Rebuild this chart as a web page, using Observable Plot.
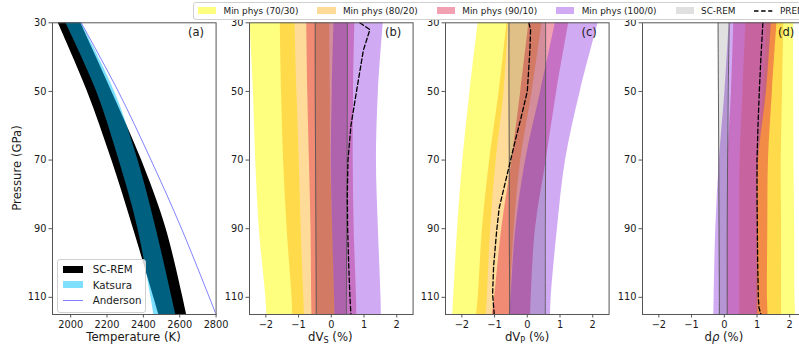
<!DOCTYPE html>
<html><head><meta charset="utf-8">
<script src="https://cdn.jsdelivr.net/npm/d3@7"></script>
<script src="https://cdn.jsdelivr.net/npm/@observablehq/plot@0.6"></script>
<style>
body{margin:0;background:#fff;font-family:"DejaVu Sans",sans-serif;color:#1a1a1a;}
#wrap{position:relative;width:799px;height:350px;overflow:hidden;background:#fff;}
.xl{position:absolute;font-size:11.7px;text-align:center;width:164px;top:329px;line-height:16px;white-space:nowrap;}
.xl sub{font-size:70%;vertical-align:-0.22em;line-height:0;}
#yl{position:absolute;left:16.7px;top:168.3px;font-size:11.7px;transform:translate(-50%,-50%) rotate(-90deg);white-space:nowrap;}
#leg{position:absolute;left:193px;top:1.5px;height:16px;border:1px solid #d0d0d0;border-radius:3px;padding-left:4px;display:flex;align-items:center;font-size:8.87px;white-space:nowrap;background:#fff;}
#leg .sw{display:inline-block;width:18.3px;height:6.3px;margin-right:7.2px;}
#leg .lt{margin-right:19px;}
#lega{position:absolute;left:56.7px;top:259px;width:87px;height:52px;border:1px solid #d0d0d0;border-radius:3px;background:rgba(255,255,255,0.8);font-size:10.3px;}
#lega .row{position:absolute;left:5px;height:12px;display:flex;align-items:center;}
#lega .sw{display:inline-block;width:20px;height:7px;margin-right:10px;}
</style></head><body><div id="wrap"></div>
<script>
// ---------- Data ----------
const yTicks = [30, 50, 70, 90, 110];
const bTicks = [-2, -1, 0, 1, 2];
const aTicks = [2000, 2200, 2400, 2600, 2800];

// Panel (a): temperature (K) vs pressure (GPa)
const P_a = [30, 50, 70, 90, 115];
const screm_T_lo = [1931, 2092, 2226, 2345, 2485];
const screm_T_hi = [2055, 2226, 2390, 2525, 2638];
const katsura_T_lo = [1973, 2143, 2266, 2370, 2458];
const katsura_T_hi = [2058, 2242, 2370, 2470, 2578];
const anderson_P = [30, 50, 70, 90, 115];
const anderson_T = [2058, 2262, 2442, 2610, 2800];

// Band pressures for panels b-d
const P_band = [30, 50, 70, 90, 110, 115];

// Panel (b): dVs (%)
const vs_70_30_lo = [-2.48, -2.38, -2.31, -2.2, -2.0, -1.97];
const vs_70_30_hi = [-1.11, -1.05, -0.98, -0.92, -0.84, -0.82];
const vs_80_20_lo = [-1.56, -1.52, -1.46, -1.35, -1.2, -1.18];
const vs_80_20_hi = [-0.05, -0.03, -0.02, 0.04, 0.1, 0.11];
const vs_90_10_lo = [-0.75, -0.72, -0.67, -0.62, -0.6, -0.59];
const vs_90_10_hi = [0.72, 0.68, 0.67, 0.7, 0.77, 0.78];
const vs_100_0_lo = [0.08, 0.03, 0.0, 0.04, 0.1, 0.11];
const vs_100_0_hi = [1.59, 1.44, 1.38, 1.44, 1.52, 1.53];
const vs_screm_lo = [-0.49, -0.49, -0.48, -0.47, -0.46, -0.46];
const vs_screm_hi = [0.49, 0.49, 0.48, 0.47, 0.46, 0.46];
const vs_prem_P = [30, 32, 38, 50, 60, 70, 80, 90, 100, 110, 115];
const vs_prem = [0.87, 1.18, 0.98, 0.77, 0.6, 0.51, 0.49, 0.5, 0.53, 0.57, 0.6];

// Panel (c): dVp (%)
const vp_70_30_lo = [-1.5, -1.75, -1.97, -2.13, -2.25, -2.28];
const vp_70_30_hi = [-0.58, -0.71, -0.95, -1.12, -1.22, -1.25];
const vp_80_20_lo = [-0.62, -0.86, -1.15, -1.37, -1.5, -1.55];
const vp_80_20_hi = [0.45, 0.15, -0.2, -0.4, -0.52, -0.54];
const vp_90_10_lo = [0.05, -0.2, -0.47, -0.78, -1.0, -1.07];
const vp_90_10_hi = [1.27, 0.9, 0.58, 0.25, 0.12, 0.1];
const vp_100_0_lo = [0.86, 0.41, -0.05, -0.35, -0.5, -0.54];
const vp_100_0_hi = [2.17, 1.62, 1.17, 0.92, 0.73, 0.71];
const vp_screm_lo = [-0.56, -0.56, -0.55, -0.55, -0.54, -0.54];
const vp_screm_hi = [0.56, 0.56, 0.56, 0.55, 0.55, 0.55];
const vp_prem_P = [30, 32, 38, 50, 58, 64, 70, 78, 84, 91, 101, 109, 115];
const vp_prem = [0.05, 0.1, 0.08, 0.0, -0.2, -0.36, -0.51, -0.71, -0.86, -0.94, -1.03, -1.06, -1.01];

// Panel (d): drho (%)
const rho_70_30_lo = [1.3, 1.2, 1.0, 0.98, 0.98, 0.98];
const rho_70_30_hi = [2.12, 2.12, 2.13, 2.15, 2.16, 2.18];
const rho_80_20_lo = [0.66, 0.57, 0.48, 0.47, 0.47, 0.47];
const rho_80_20_hi = [1.82, 1.78, 1.74, 1.75, 1.75, 1.75];
const rho_90_10_lo = [0.29, 0.22, 0.11, 0.09, 0.09, 0.09];
const rho_90_10_hi = [1.61, 1.47, 1.35, 1.33, 1.32, 1.34];
const rho_100_0_lo = [0.15, 0.02, -0.15, -0.26, -0.31, -0.32];
const rho_100_0_hi = [1.44, 1.29, 1.05, 1.03, 1.03, 1.03];
const rho_screm_lo = [-0.19, -0.18, -0.17, -0.16, -0.15, -0.15];
const rho_screm_hi = [0.15, 0.12, 0.1, 0.09, 0.09, 0.09];
const rho_prem_P = [30, 40, 50, 60, 70, 80, 90, 100, 110, 113, 115];
const rho_prem = [1.18, 1.12, 1.07, 1.03, 1.0, 1.0, 1.01, 1.02, 1.04, 1.06, 1.12];

// ---------- Styles ----------
const C = {
  y: {fill: "yellow", op: 0.5},
  o: {fill: "orange", op: 0.4},
  r: {fill: "crimson", op: 0.4},
  p: {fill: "blueviolet", op: 0.4},
  g: {fill: "black", op: 0.12}
};

const rowsOf = (P, lo, hi) => P.map((p, i) => ({p, lo: lo[i], hi: hi[i]}));
const band = (P, lo, hi, c) => Plot.areaX(rowsOf(P, lo, hi), {y: "p", x1: "lo", x2: "hi", fill: c.fill, fillOpacity: c.op, curve: "catmull-rom", clip: true});
const edges = (P, lo, hi) => [
  Plot.line(rowsOf(P, lo, hi), {x: "lo", y: "p", stroke: "#555", strokeWidth: 0.9, curve: "catmull-rom", clip: true}),
  Plot.line(rowsOf(P, lo, hi), {x: "hi", y: "p", stroke: "#555", strokeWidth: 0.9, curve: "catmull-rom", clip: true})
];
const prem = (P, v) => Plot.line(P.map((p, i) => ({p, v: v[i]})), {x: "v", y: "p", stroke: "black", strokeWidth: 1.3, strokeDasharray: "4.5,2.6", clip: true});

const wrap = document.getElementById("wrap");
const W = 163.6, ML = 46, MR = 6, MT = 22.3, MB = 36, H = 350;
const lefts = [51.7, 248.5, 445.3, 642.1];

function panel(i, xDomain, xTicks, xFmt, marks, tag) {
  const svg = Plot.plot({
    width: ML + W + MR, height: H,
    marginLeft: ML, marginRight: MR, marginTop: MT, marginBottom: MB,
    style: {fontFamily: "DejaVu Sans", fontSize: "9.8px", color: "#1a1a1a", background: "transparent", overflow: "visible"},
    x: {domain: xDomain, label: null},
    y: {domain: [30, 115], reverse: true, label: null},
    marks: [
      ...marks,
      Plot.frame({stroke: "#555", strokeWidth: 1}),
      Plot.axisX({ticks: xTicks, tickFormat: xFmt, tickSize: 3.5, tickPadding: 3, label: null, fontSize: 9.8, stroke: "#555", fill: "#1a1a1a"}),
      Plot.axisY({ticks: yTicks, tickSize: 3.5, tickPadding: 2.5, label: null, fontSize: 9.8, stroke: "#555", fill: "#1a1a1a"}),
      Plot.text([tag], {text: d => d, frameAnchor: "top-right", dx: -20, dy: 10, textAnchor: "middle", lineAnchor: "middle", fontSize: 11.5, fill: "#1a1a1a"})
    ]
  });
  svg.style.position = "absolute";
  svg.style.left = (lefts[i] - ML) + "px";
  svg.style.top = "0px";
  wrap.appendChild(svg);
}

// Panel (a)
panel(0, [1900, 2800], aTicks, d3.format("d"), [
  Plot.areaX(rowsOf(P_a, screm_T_lo, screm_T_hi), {y: "p", x1: "lo", x2: "hi", fill: "black", curve: "catmull-rom", clip: true}),
  Plot.areaX(rowsOf(P_a, katsura_T_lo, katsura_T_hi), {y: "p", x1: "lo", x2: "hi", fill: "deepskyblue", fillOpacity: 0.5, curve: "catmull-rom", clip: true}),
  Plot.line(anderson_P.map((p, i) => ({p, t: anderson_T[i]})), {x: "t", y: "p", stroke: "blue", strokeOpacity: 0.5, strokeWidth: 1, curve: "catmull-rom", clip: true})
], "(a)");

// Panel (b)
panel(1, [-2.5, 2.5], bTicks, d3.format("d"), [
  band(P_band, vs_70_30_lo, vs_70_30_hi, C.y),
  band(P_band, vs_80_20_lo, vs_80_20_hi, C.o),
  band(P_band, vs_90_10_lo, vs_90_10_hi, C.r),
  band(P_band, vs_100_0_lo, vs_100_0_hi, C.p),
  band(P_band, vs_screm_lo, vs_screm_hi, C.g),
  ...edges(P_band, vs_screm_lo, vs_screm_hi),
  prem(vs_prem_P, vs_prem)
], "(b)");

// Panel (c)
panel(2, [-2.5, 2.5], bTicks, d3.format("d"), [
  band(P_band, vp_70_30_lo, vp_70_30_hi, C.y),
  band(P_band, vp_80_20_lo, vp_80_20_hi, C.o),
  band(P_band, vp_90_10_lo, vp_90_10_hi, C.r),
  band(P_band, vp_100_0_lo, vp_100_0_hi, C.p),
  band(P_band, vp_screm_lo, vp_screm_hi, C.g),
  ...edges(P_band, vp_screm_lo, vp_screm_hi),
  prem(vp_prem_P, vp_prem)
], "(c)");

// Panel (d)
panel(3, [-2.5, 2.5], bTicks, d3.format("d"), [
  band(P_band, rho_70_30_lo, rho_70_30_hi, C.y),
  band(P_band, rho_80_20_lo, rho_80_20_hi, C.o),
  band(P_band, rho_90_10_lo, rho_90_10_hi, C.r),
  band(P_band, rho_100_0_lo, rho_100_0_hi, C.p),
  band(P_band, rho_screm_lo, rho_screm_hi, C.g),
  ...edges(P_band, rho_screm_lo, rho_screm_hi),
  prem(rho_prem_P, rho_prem)
], "(d)");

// Axis labels
const xlabels = ["Temperature (K)", "dV<sub>S</sub> (%)", "dV<sub>P</sub> (%)", "d<i>ρ</i> (%)"];
xlabels.forEach((t, i) => {
  const d = document.createElement("div");
  d.className = "xl";
  d.style.left = (lefts[i] + W / 2 - 82) + "px";
  d.innerHTML = t;
  wrap.appendChild(d);
});
const yl = document.createElement("div");
yl.id = "yl"; yl.textContent = "Pressure (GPa)";
wrap.appendChild(yl);

// Top legend
const rgba = (c) => { const k = d3.color(c.fill); k.opacity = c.op; return k.formatRgb(); };
const legItems = [
  ["Min phys (70/30)", C.y], ["Min phys (80/20)", C.o], ["Min phys (90/10)", C.r],
  ["Min phys (100/0)", C.p], ["SC-REM", C.g]
];
const leg = document.createElement("div");
leg.id = "leg";
legItems.forEach(([t, c]) => {
  const s = document.createElement("span"); s.className = "sw"; s.style.background = rgba(c); leg.appendChild(s);
  const l = document.createElement("span"); l.className = "lt"; l.textContent = t; leg.appendChild(l);
});
const dsh = document.createElementNS("http://www.w3.org/2000/svg", "svg");
dsh.setAttribute("width", "18.3"); dsh.setAttribute("height", "8");
dsh.style.marginRight = "7.2px";
dsh.innerHTML = '<line x1="0" y1="4" x2="18.3" y2="4" stroke="black" stroke-width="1.3" stroke-dasharray="4.5,2.6"/>';
leg.appendChild(dsh);
const pl = document.createElement("span"); pl.className = "lt"; pl.textContent = "PREM"; leg.appendChild(pl);
wrap.appendChild(leg);

// Panel (a) legend
const lega = document.createElement("div");
lega.id = "lega";
const aItems = [
  ["SC-REM", '<span class="sw" style="background:black"></span>'],
  ["Katsura", '<span class="sw" style="background:rgba(0,191,255,0.5)"></span>'],
  ["Anderson", '<svg width="20" height="7" style="margin-right:10px"><line x1="0" y1="3.5" x2="20" y2="3.5" stroke="rgba(0,0,255,0.5)" stroke-width="1"/></svg>']
];
aItems.forEach(([t, h], i) => {
  const r = document.createElement("div");
  r.className = "row";
  r.style.top = (3 + i * 15.5) + "px";
  r.innerHTML = h + "<span>" + t + "</span>";
  lega.appendChild(r);
});
wrap.appendChild(lega);
</script></body></html>
